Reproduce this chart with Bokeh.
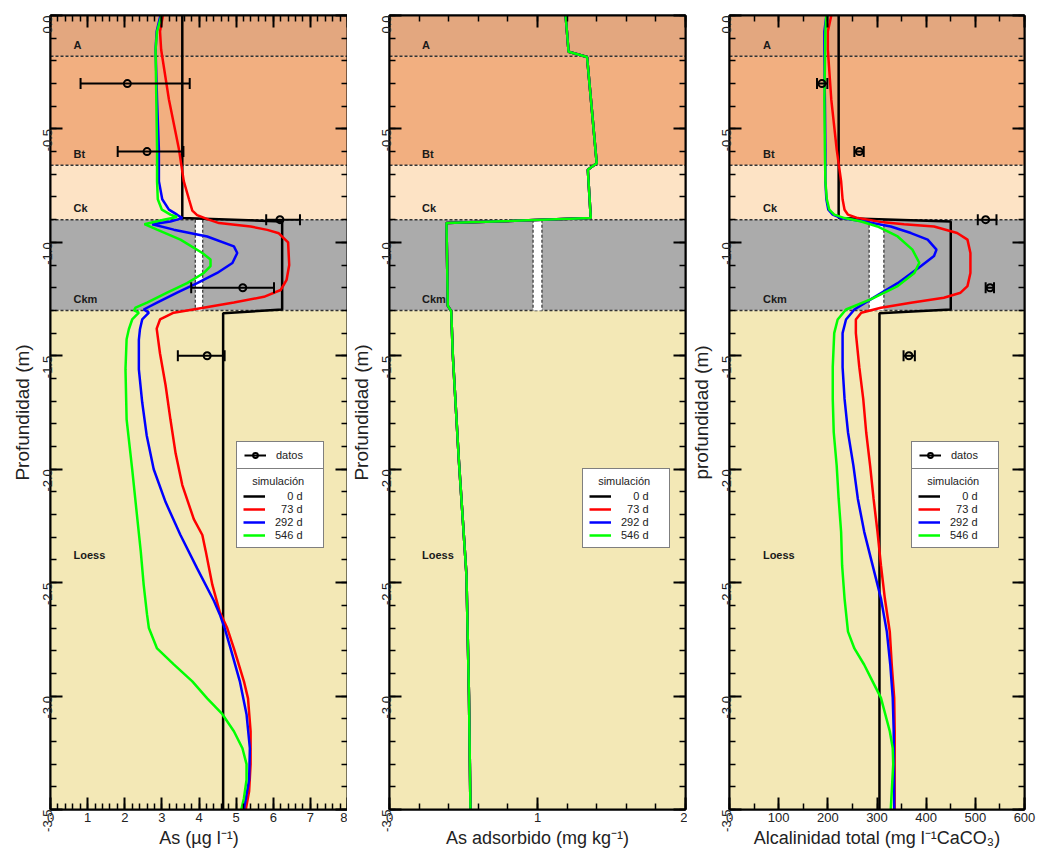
import math
import numpy as np
from bokeh.plotting import figure
from bokeh.layouts import row
from bokeh.models import (Range1d, LinearAxis, FixedTicker, NumeralTickFormatter,
                          CustomJSTickFormatter, Legend, LegendItem)
from bokeh.core.properties import value
from bokeh.embed import file_html
from bokeh.resources import INLINE

FONT = "Liberation Sans"

# ---------------- horizons (soil profile) ----------------
horizon_names = ["A", "Bt", "Ck", "Ckm", "Loess"]
horizon_top = [0.0, -0.18, -0.66, -0.90, -1.30]
horizon_bottom = [-0.18, -0.66, -0.90, -1.30, -3.50]
horizon_colors = ["#E3A77F", "#F2AF80", "#FDE3C5", "#ABABAB", "#F3E8B6"]
horizon_label_depth = [-0.13, -0.61, -0.85, -1.25, -2.38]
horizon_boundaries = [-0.18, -0.66, -0.90, -1.30]
gap_top, gap_bottom = -0.90, -1.30

series_labels = ["\u2007\u20070 d", "\u200773 d", "292 d", "546 d"]
series_colors = ["#000000", "#FF0000", "#0000FF", "#00FF00"]

# ---------------- Panel 1: As (ug/l) ----------------
as_depth_0 = [0.0, -0.893, -0.908, -1.296, -1.313, -3.5]
as_val_0 = [3.55, 3.55, 6.24, 6.24, 4.65, 4.65]

as_depth_73 = [0.0, -0.07, -0.15, -0.37, -0.59, -0.73, -0.81, -0.86, -0.88, -0.90, -0.915,
               -0.93, -0.945, -0.96, -1.00, -1.10, -1.165, -1.21, -1.24, -1.265, -1.29,
               -1.31, -1.34, -1.38, -1.49, -1.63, -1.78, -1.93, -2.07, -2.22, -2.29, -2.36,
               -2.51, -2.63, -2.70, -2.79, -2.935, -3.01, -3.155, -3.30, -3.42, -3.50]
as_val_73 = [3.03, 2.95, 2.98, 3.19, 3.46, 3.59, 3.73, 3.82, 3.95, 4.26, 4.54,
             5.39, 5.84, 6.15, 6.40, 6.43, 6.36, 6.20, 5.75, 4.94, 4.04,
             3.32, 2.95, 2.86, 2.95, 3.10, 3.23, 3.37, 3.55, 3.86, 4.09, 4.18,
             4.36, 4.56, 4.76, 4.94, 5.21, 5.32, 5.39, 5.39, 5.35, 5.26]

as_depth_292 = [0.0, -0.07, -0.15, -0.37, -0.59, -0.73, -0.81, -0.856, -0.878, -0.893, -0.908,
                -0.92, -0.944, -0.974, -1.018, -1.047, -1.091, -1.135, -1.18, -1.222, -1.266,
                -1.296, -1.31, -1.34, -1.383, -1.43, -1.56, -1.705, -1.85, -2.00, -2.145,
                -2.29, -2.437, -2.58, -2.64, -2.70, -2.79, -2.935, -3.08, -3.23, -3.37, -3.50]
as_val_292 = [2.96, 2.86, 2.83, 2.87, 2.92, 2.92, 3.01, 3.19, 3.41, 3.55, 3.23,
              2.74, 3.32, 4.22, 4.94, 5.03, 4.90, 4.49, 3.95, 3.41, 2.87,
              2.51, 2.65, 2.47, 2.41, 2.38, 2.38, 2.47, 2.59, 2.78, 3.10,
              3.50, 3.95, 4.40, 4.56, 4.69, 4.85, 5.10, 5.28, 5.37, 5.35, 5.21]

as_depth_546 = [0.0, -0.07, -0.15, -0.37, -0.59, -0.73, -0.81, -0.856, -0.878, -0.888, -0.90,
                -0.92, -0.944, -0.988, -1.047, -1.076, -1.105, -1.135, -1.18, -1.222, -1.266,
                -1.288, -1.30, -1.31, -1.34, -1.383, -1.427, -1.56, -1.78, -2.00, -2.22,
                -2.36, -2.51, -2.64, -2.70, -2.79, -2.86, -2.935, -3.01, -3.08, -3.155,
                -3.23, -3.30, -3.37, -3.45, -3.50]
as_val_546 = [2.99, 2.87, 2.83, 2.85, 2.87, 2.87, 2.89, 3.00, 3.23, 3.41, 3.05,
              2.53, 2.87, 3.50, 4.09, 4.31, 4.31, 4.13, 3.68, 3.14, 2.60,
              2.29, 2.25, 2.38, 2.20, 2.11, 2.05, 2.02, 2.05, 2.20, 2.34,
              2.43, 2.51, 2.60, 2.65, 2.87, 3.32, 3.82, 4.22, 4.63, 4.94,
              5.17, 5.28, 5.28, 5.21, 5.14]

as_obs_depth = [-0.3, -0.6, -0.9, -1.2, -1.5]
as_obs_val = [2.07, 2.60, 6.18, 5.18, 4.22]
as_obs_low = [0.81, 1.81, 5.81, 3.79, 3.43]
as_obs_high = [3.75, 3.58, 6.72, 6.02, 4.69]
as_gap = [3.9, 4.1]

# ---------------- Panel 2: As adsorbido (mg/kg) ----------------
ads_depth = [0.0, -0.16, -0.183, -0.651, -0.68, -0.893, -0.915, -1.28, -1.303,
             -1.5, -1.954, -2.467, -3.0, -3.5]
ads_val = [1.19, 1.21, 1.335, 1.40, 1.34, 1.36, 0.385, 0.394, 0.417,
           0.428, 0.468, 0.52, 0.537, 0.547]
ads_gap = [0.97, 1.03]

# ---------------- Panel 3: Alcalinidad total ----------------
alk_depth_0 = [0.0, -0.893, -0.908, -1.296, -1.313, -3.5]
alk_val_0 = [222, 222, 450, 450, 305, 305]

alk_depth_73 = [0.0, -0.07, -0.15, -0.37, -0.59, -0.73, -0.81, -0.856, -0.878, -0.893, -0.91,
                -0.92, -0.93, -0.959, -0.988, -1.047, -1.135, -1.193, -1.222, -1.244, -1.266,
                -1.288, -1.31, -1.34, -1.40, -1.55, -1.69, -1.837, -1.984, -2.13, -2.276,
                -2.423, -2.57, -2.716, -2.862, -3.008, -3.155, -3.30, -3.50]
alk_val_73 = [207, 200, 200, 207, 218, 227, 230, 234, 241, 261, 308,
              355, 416, 463, 484, 490, 490, 484, 470, 436, 369,
              308, 268, 257, 257, 264, 272, 278, 286, 293, 301,
              308, 316, 326, 330, 335, 336, 336, 336]

alk_depth_292 = [0.0, -0.07, -0.15, -0.37, -0.59, -0.73, -0.81, -0.856, -0.878, -0.893, -0.908,
                 -0.93, -0.959, -0.988, -1.032, -1.06, -1.105, -1.18, -1.25, -1.296, -1.34,
                 -1.40, -1.55, -1.69, -1.837, -1.984, -2.13, -2.276, -2.423, -2.57, -2.716,
                 -2.862, -3.008, -3.155, -3.50]
alk_val_292 = [197, 193, 193, 194, 195, 195, 197, 201, 210, 227, 274,
               328, 369, 403, 421, 416, 389, 342, 288, 254, 237,
               230, 230, 234, 241, 252, 261, 274, 291, 308, 320,
               327, 332, 334, 335]

alk_depth_546 = [0.0, -0.07, -0.37, -0.59, -0.73, -0.81, -0.856, -0.878, -0.893, -0.908,
                 -0.93, -0.974, -1.032, -1.09, -1.135, -1.193, -1.25, -1.296, -1.34, -1.40,
                 -1.55, -1.69, -1.837, -1.984, -2.13, -2.276, -2.423, -2.57, -2.716, -2.79,
                 -2.862, -2.935, -3.008, -3.155, -3.23, -3.30, -3.50]
alk_val_546 = [197, 195, 193, 194, 195, 198, 203, 213, 234, 268,
               301, 342, 372, 386, 376, 342, 288, 237, 220, 213,
               210, 210, 212, 218, 222, 227, 229, 234, 241, 254,
               274, 291, 308, 326, 332, 333, 328]

alk_obs_depth = [-0.3, -0.6, -0.9, -1.2, -1.5]
alk_obs_val = [188, 264, 521, 530, 365]
alk_obs_low = [178, 254, 505, 521, 354]
alk_obs_high = [199, 273, 543, 538, 377]
alk_gap = [284, 314]

# ---------------- axis config ----------------
y_ticks = [-3.5, -3.0, -2.5, -2.0, -1.5, -1.0, -0.5, 0.0]
y_minor = [round(v, 2) for v in np.arange(-3.5, 0.001, 0.1)]


def style_axis(ax, ticks, minor, fmt, labels=True, orient="horizontal"):
    ax.ticker = FixedTicker(ticks=ticks, minor_ticks=minor)
    ax.major_tick_in = 12
    ax.major_tick_out = 0
    ax.minor_tick_in = 6
    ax.minor_tick_out = 0
    ax.axis_line_width = 2
    ax.axis_line_color = "black"
    ax.major_tick_line_width = 2
    ax.minor_tick_line_width = 1.5
    ax.major_tick_line_color = "black"
    ax.minor_tick_line_color = "black"
    if labels:
        ax.formatter = fmt
        ax.major_label_text_font = FONT
        ax.major_label_text_font_size = "13px"
        ax.major_label_text_color = "#222222"
        ax.major_label_standoff = 3
        ax.major_label_orientation = orient
    else:
        ax.formatter = CustomJSTickFormatter(code="return ''")
        ax.major_label_text_font_size = "0px"
        ax.major_label_standoff = 0


def make_panel(xmax, xticks, xminor, xfmt, xlabel, ylabel, curves, gap,
               label_x, legend_x, obs=None, width=340, mbl=42, mbr=0):
    p = figure(width=width, height=850, x_range=Range1d(0, xmax),
               y_range=Range1d(-3.5, 0), output_backend="svg",
               toolbar_location=None, min_border_left=mbl, min_border_right=mbr,
               min_border_top=15, min_border_bottom=38,
               outline_line_color="black", outline_line_width=2,
               border_fill_color="white")
    p.grid.visible = False

    # horizon bands
    p.quad(left=0, right=xmax, top=horizon_top, bottom=horizon_bottom,
           fill_color=horizon_colors, line_color=None)
    p.segment(x0=0, x1=xmax, y0=horizon_boundaries, y1=horizon_boundaries,
              line_color="#333333", line_width=1.5, line_dash="3 2")
    # white gap in Ckm
    p.quad(left=[gap[0]], right=[gap[1]], top=[gap_top], bottom=[gap_bottom],
           fill_color="white", line_color=None)
    p.segment(x0=gap, x1=gap, y0=gap_top, y1=gap_bottom,
              line_color="#333333", line_width=1.2, line_dash="3 2")
    p.text(x=[label_x] * len(horizon_names), y=horizon_label_depth, text=horizon_names,
           text_font=value(FONT), text_font_style="bold", text_font_size="11px",
           text_baseline="middle", text_color="#1a1a1a")

    rends = []
    for (d, v), c in zip(curves, series_colors):
        rends.append(p.line(v, d, line_color=c, line_width=2.5))

    seg = circ = None
    if obs is not None:
        od, ov, lo, hi = obs
        seg = p.segment(x0=lo, x1=hi, y0=od, y1=od, line_color="black", line_width=2)
        p.scatter(x=lo + hi, y=od + od, marker="dash", angle=math.pi / 2, size=11,
                  line_color="black", line_width=2)
        circ = p.scatter(x=ov, y=od, marker="circle", size=7, fill_color=None,
                         line_color="black", line_width=2)

    # axes
    style_axis(p.xaxis[0], xticks, xminor, xfmt)
    style_axis(p.yaxis[0], y_ticks, y_minor, NumeralTickFormatter(format="0.0"),
               orient=math.pi / 2)
    p.xaxis.axis_label = xlabel
    p.yaxis.axis_label = ylabel
    for ax, fs in ((p.xaxis[0], "18px"), (p.yaxis[0], "19px")):
        ax.axis_label_text_font = FONT
        ax.axis_label_text_font_size = fs
        ax.axis_label_text_font_style = "normal"
        ax.axis_label_text_color = "#222222"
        ax.axis_label_standoff = 3
    top = LinearAxis()
    style_axis(top, xticks, xminor, None, labels=False)
    p.add_layout(top, "above")
    right = LinearAxis()
    style_axis(right, y_ticks, y_minor, None, labels=False)
    p.add_layout(right, "right")

    common = dict(label_text_font=FONT, label_text_font_size="11px",
                  label_text_color="#222222", label_height=12, glyph_height=12,
                  glyph_width=22, spacing=1, margin=0, label_standoff=10,
                  border_line_color="black", border_line_width=1.5,
                  background_fill_color="white", background_fill_alpha=1.0)
    leg2 = Legend(items=[LegendItem(label=value(l), renderers=[r])
                         for l, r in zip(series_labels, rends)],
                  title="\u00a0\u00a0\u00a0simulación", title_text_font=FONT,
                  title_text_font_size="11px", title_text_font_style="normal",
                  title_text_color="#222222", title_standoff=3,
                  padding=6, label_width=42, location=(legend_x, 261), **common)
    p.add_layout(leg2)
    if obs is not None:
        leg1 = Legend(items=[LegendItem(label=value("datos"), renderers=[seg, circ])],
                      padding=7, label_width=40, location=(legend_x, 340), **common)
        p.add_layout(leg1)
    return p


p1 = make_panel(8, list(range(0, 9)), [round(v, 2) for v in np.arange(0, 8.001, 0.2)],
                NumeralTickFormatter(format="0"), "As (µg l\u207b\u00b9)", "Profundidad (m)",
                [(as_depth_0, as_val_0), (as_depth_73, as_val_73),
                 (as_depth_292, as_val_292), (as_depth_546, as_val_546)],
                as_gap, 0.62, 186,
                obs=(as_obs_depth, as_obs_val, as_obs_low, as_obs_high),
                width=347, mbl=50, mbr=0)

p2 = make_panel(2, [0, 1, 2], [round(v, 2) for v in np.arange(0, 2.001, 0.2)],
                NumeralTickFormatter(format="0"), "As adsorbido (mg kg\u207b\u00b9)",
                "Profundidad (m)",
                [(ads_depth, ads_val), (ads_depth, ads_val),
                 (ads_depth, ads_val), (ads_depth, ads_val)],
                ads_gap, 0.22, 193, obs=None, width=340, mbl=42, mbr=2)

p3 = make_panel(600, list(range(0, 601, 100)), list(range(0, 601, 50)),
                NumeralTickFormatter(format="0"),
                "Alcalinidad total (mg l\u207b\u00b9CaCO\u2083)", "profundidad (m)",
                [(alk_depth_0, alk_val_0), (alk_depth_73, alk_val_73),
                 (alk_depth_292, alk_val_292), (alk_depth_546, alk_val_546)],
                alk_gap, 68, 182,
                obs=(alk_obs_depth, alk_obs_val, alk_obs_low, alk_obs_high),
                width=352, mbl=41, mbr=15)

layout = row(p1, p2, p3)
open("out.html", "w").write(file_html(layout, INLINE))
